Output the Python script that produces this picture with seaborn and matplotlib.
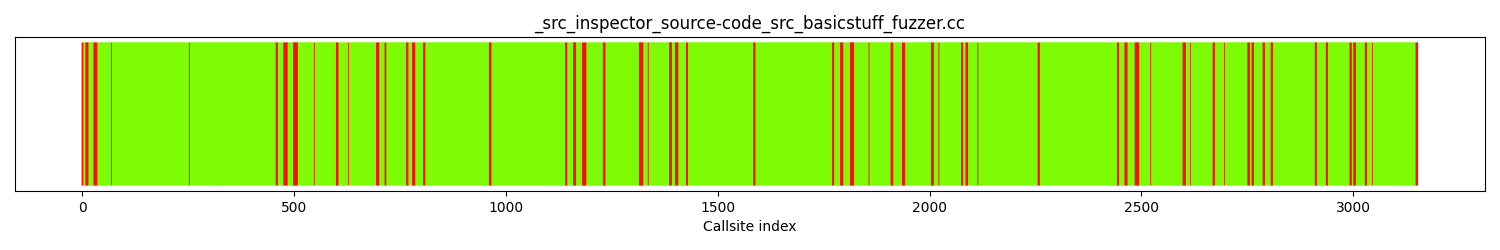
import numpy as np
import pandas as pd
import matplotlib
matplotlib.use("Agg")
import matplotlib.pyplot as plt
import seaborn as sns

title = "_src_inspector_source-code_src_basicstuff_fuzzer.cc"
n_callsites = 3153
# Uncovered (red) callsite index runs, inclusive (start, end)
red_runs = [
    (0, 2), (9, 14), (28, 35), (69, 69), (253, 253), (458, 461), (476, 484),
    (499, 508), (548, 548), (600, 604), (629, 629), (695, 700), (715, 717),
    (766, 769), (780, 785), (806, 809), (961, 965), (1141, 1144), (1160, 1165),
    (1181, 1189), (1230, 1234), (1315, 1323), (1336, 1336), (1386, 1391),
    (1400, 1406), (1426, 1429), (1585, 1588), (1771, 1774), (1790, 1795),
    (1813, 1821), (1857, 1857), (1909, 1913), (1936, 1941), (2004, 2009),
    (2022, 2022), (2075, 2078), (2086, 2090), (2114, 2114), (2256, 2259),
    (2443, 2446), (2461, 2466), (2485, 2493), (2522, 2522), (2598, 2604),
    (2616, 2616), (2669, 2672), (2696, 2696), (2751, 2755), (2761, 2764),
    (2787, 2790), (2806, 2809), (2910, 2913), (2936, 2939), (2992, 2995),
    (3001, 3005), (3028, 3031), (3045, 3045), (3148, 3152),
]
status_labels = ["covered", "uncovered"]
status_colors = {"covered": "#7CFC00", "uncovered": "#FF0000"}
edge_widths = {"covered": 0.25, "uncovered": 0.2}

status = np.array(["covered"] * n_callsites, dtype=object)
for s, e in red_runs:
    status[s:e + 1] = "uncovered"

df = pd.DataFrame({
    "idx": np.arange(n_callsites),
    "val": np.ones(n_callsites),
    "status": status,
})

fig, ax = plt.subplots(figsize=(15, 2.5), dpi=100)
for lab in status_labels:
    sub = df[df["status"] == lab]
    sns.barplot(data=sub, x="idx", y="val", color=status_colors[lab],
                native_scale=True, width=1, saturation=1, errorbar=None,
                linewidth=edge_widths[lab], edgecolor=status_colors[lab],
                snap=False, ax=ax)
ax.set_ylim(-0.04, 1.04)
ax.set_xlim(-158.2, 3310.7)
ax.set_yticks([])
ax.set_ylabel("")
ax.set_xlabel("Callsite index")
ax.set_title(title)
fig.subplots_adjust(left=0.01, right=0.99, top=0.852, bottom=0.236)
fig.savefig("out.png", dpi=100)
